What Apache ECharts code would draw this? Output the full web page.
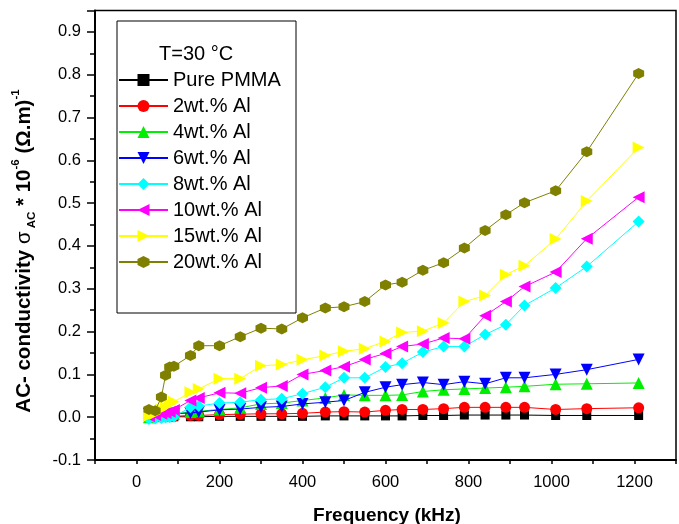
<!DOCTYPE html>
<html><head><meta charset="utf-8">
<script src="https://cdn.jsdelivr.net/npm/echarts@6/dist/echarts.min.js"></script>
<style>html,body{margin:0;padding:0;background:#fff}#c{width:679px;height:524px}</style>
</head><body><div id="c"></div>
<script>
const frequency = [30,45,60,70,80,90,130,150,200,250,300,350,400,455,500,550,600,640,690,740,790,840,890,935,1010,1085,1210];
const purePMMA = [0.000,0.000,0.000,0.001,0.001,0.001,0.001,0.001,0.002,0.002,0.002,0.002,0.002,0.003,0.003,0.003,0.003,0.003,0.004,0.004,0.005,0.005,0.005,0.005,0.004,0.004,0.004];
const al2 = [0.000,0.001,0.001,0.002,0.002,0.002,0.004,0.004,0.006,0.007,0.008,0.008,0.009,0.012,0.013,0.012,0.016,0.018,0.018,0.020,0.023,0.023,0.023,0.023,0.018,0.020,0.022];
const al4 = [0.000,0.002,0.003,0.004,0.006,0.008,0.012,0.014,0.018,0.022,0.031,0.033,0.039,0.045,0.052,0.051,0.051,0.052,0.060,0.064,0.066,0.068,0.070,0.072,0.077,0.078,0.080];
const al6 = [0.008,0.005,0.004,0.005,0.006,0.008,0.010,0.012,0.017,0.019,0.023,0.025,0.031,0.035,0.039,0.058,0.070,0.076,0.081,0.076,0.083,0.078,0.092,0.092,0.100,0.111,0.135];
const al8 = [-0.004,-0.003,-0.002,-0.001,0.000,0.001,0.023,0.026,0.033,0.035,0.041,0.043,0.055,0.070,0.092,0.092,0.117,0.126,0.152,0.165,0.165,0.193,0.216,0.261,0.302,0.352,0.457];
const al10 = [0.002,0.005,0.008,0.010,0.013,0.017,0.039,0.045,0.057,0.056,0.069,0.073,0.100,0.109,0.118,0.135,0.149,0.165,0.171,0.185,0.183,0.237,0.270,0.305,0.339,0.417,0.514];
const al15 = [0.003,0.008,0.018,0.024,0.030,0.036,0.058,0.066,0.090,0.090,0.120,0.123,0.134,0.144,0.154,0.160,0.177,0.198,0.201,0.220,0.270,0.284,0.333,0.354,0.416,0.505,0.630];
const al20 = [0.018,0.015,0.047,0.098,0.117,0.119,0.144,0.167,0.167,0.188,0.208,0.206,0.232,0.255,0.258,0.270,0.309,0.315,0.343,0.361,0.395,0.436,0.473,0.501,0.529,0.620,0.803];
const seriesNames = ['Pure PMMA','2wt.% Al','4wt.% Al','6wt.% Al','8wt.% Al','10wt.% Al','15wt.% Al','20wt.% Al'];
const seriesValues = [purePMMA, al2, al4, al6, al8, al10, al15, al20];
const colors = ['#000000','#ff0000','#00ee00','#0000ff','#00ffff','#ff00ff','#ffff00','#808000'];
const symbols = ['rect','circle','triangle',
  'path://M0,0 L10,0 L5,9 Z',
  'diamond',
  'path://M9,0 L9,10 L0,5 Z',
  'path://M0,0 L9,5 L0,10 Z',
  'path://M5,0 L9.33,2.5 L9.33,7.5 L5,10 L0.67,7.5 L0.67,2.5 Z'];
const symbolSizes = [9,11,12,12,12,12,12,11];
const FONT = '"Liberation Sans", Arial, sans-serif';

const chart = echarts.init(document.getElementById('c'), null, {renderer:'canvas'});
const series = seriesNames.map((n,i)=>({
  name:n, type:'line', data: frequency.map((f,j)=>[f, seriesValues[i][j]]),
  symbol: symbols[i], symbolSize: symbolSizes[i], showAllSymbol:true,
  itemStyle:{color:colors[i]}, lineStyle:{color:colors[i], width:1},
  emphasis:{disabled:true}, animation:false, z: 2+i
}));
chart.setOption({
  animation:false,
  grid:{left:95, top:10.5, right:0, bottom:64, show:true, borderColor:'#000', borderWidth:1.5, backgroundColor:'transparent'},
  xAxis:{type:'value', min:-100, max:1300, interval:100,
    axisLine:{onZero:false, lineStyle:{color:'#000', width:2}},
    axisTick:{show:true, length:4, lineStyle:{color:'#000', width:1.5}},
    axisLabel:{margin:14, fontSize:16.5, fontFamily:FONT, color:'#000',
      formatter:v=> (Math.round(v)%200===0 ? String(Math.round(v)) : '')},
    splitLine:{show:false}},
  yAxis:{type:'value', min:-0.1, max:0.95, interval:0.1,
    axisLine:{onZero:false, lineStyle:{color:'#000', width:2}},
    axisTick:{show:true, length:8, lineStyle:{color:'#000', width:1.5}},
    minorTick:{show:true, splitNumber:2, length:5, lineStyle:{color:'#000', width:1.5}},
    axisLabel:{margin:14, fontSize:16.5, fontFamily:FONT, color:'#000',
      formatter:v=> (Math.abs(v*10-Math.round(v*10))>1e-6 ? '' : (Math.round(v*10)/10).toFixed(1)), showMaxLabel:false},
    splitLine:{show:false}},
  legend:{orient:'vertical', left:118, top:70, itemWidth:49, itemHeight:15, itemGap:6, padding:0,
    textStyle:{fontSize:20, fontFamily:FONT, color:'#000'}, z:12, selectedMode:false},
  graphic:[
    {type:'rect', z:10, shape:{x:117, y:21, width:179, height:292}, style:{fill:'#fff', stroke:'#000', lineWidth:1}},
    {type:'text', z:12, x:159, y:54, style:{text:'T=30 °C', fontSize:20, fontFamily:FONT, fill:'#000', verticalAlign:'middle'}},
    {type:'text', z:12, x:387, y:516, style:{text:'Frequency (kHz)', fontSize:19, fontWeight:'bold', fontFamily:FONT, fill:'#000', align:'center', verticalAlign:'middle'}},
    {type:'text', z:12, x:24, y:251, rotation:Math.PI/2, style:{
      text:'{m|AC- conductivity }{g|σ}{s| AC}{m| * 10}{p|-6}{m| (Ω.m)}{p|-1}',
      align:'center', verticalAlign:'middle', fill:'#000',
      rich:{
        m:{fontSize:20.5, fontWeight:'bold', fontFamily:FONT, lineHeight:28, verticalAlign:'middle'},
        g:{fontSize:20.5, fontFamily:FONT, lineHeight:28, verticalAlign:'middle'},
        s:{fontSize:11.5, fontWeight:'bold', fontFamily:FONT, verticalAlign:'bottom', lineHeight:28},
        p:{fontSize:11.5, fontWeight:'bold', fontFamily:FONT, verticalAlign:'top', lineHeight:28}
      }}}
  ],
  series: series
});
</script></body></html>
